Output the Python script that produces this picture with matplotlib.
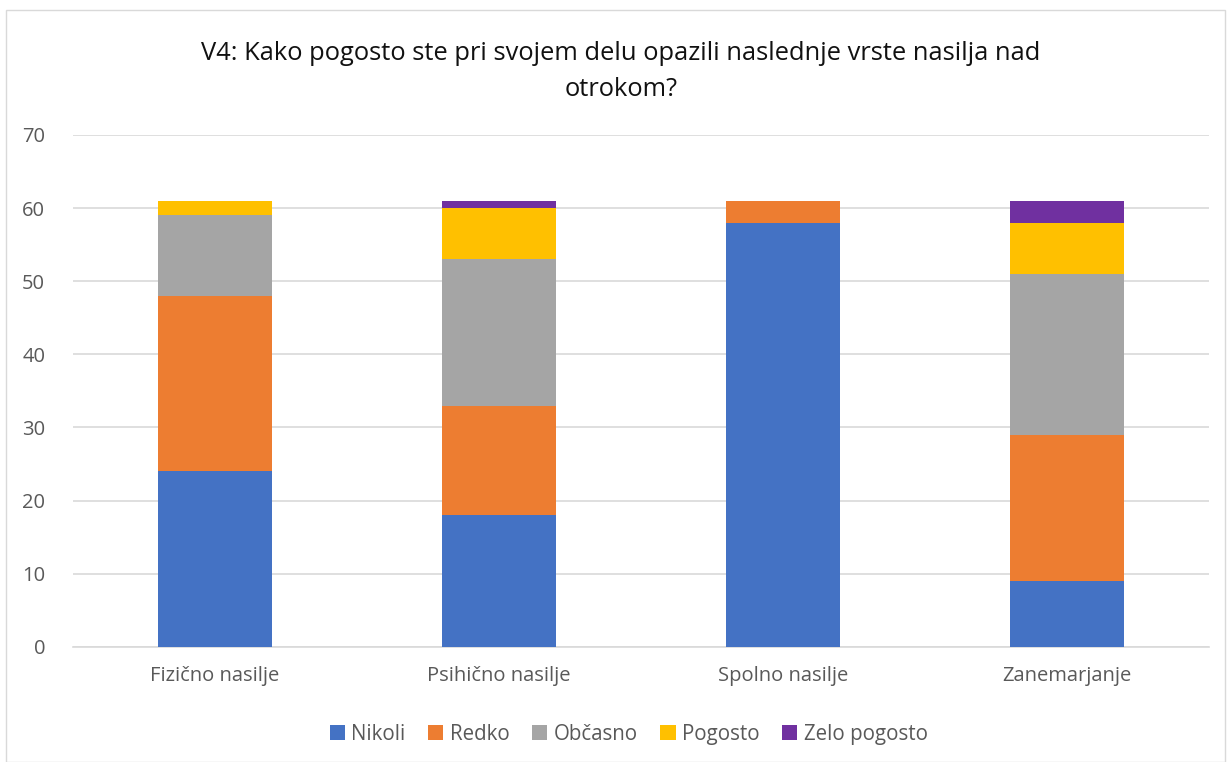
import matplotlib.pyplot as plt
import numpy as np
from matplotlib.patches import Rectangle

plt.rcParams['font.family'] = ['Open Sans', 'DejaVu Sans']

categories = ["Fizično nasilje", "Psihično nasilje", "Spolno nasilje", "Zanemarjanje"]
series = ["Nikoli", "Redko", "Občasno", "Pogosto", "Zelo pogosto"]
nikoli = [24, 18, 58, 9]
redko = [24, 15, 3, 20]
obcasno = [11, 20, 0, 22]
pogosto = [2, 7, 0, 7]
zelo_pogosto = [0, 1, 0, 3]
colors = ["#4472c4", "#ed7d31", "#a5a5a5", "#ffc000", "#7030a0"]

fig = plt.figure(figsize=(12.27, 7.62), dpi=100)
fig.patches.append(Rectangle((0.005, 0.0), 0.993, 0.987, transform=fig.transFigure,
                             fill=False, edgecolor="#d9d9d9", linewidth=1))
ax = fig.add_axes([0.0595, 0.151, 0.926, 0.672])

x = np.arange(len(categories))
bottom = np.zeros(len(categories))
for name, vals, col in zip(series, [nikoli, redko, obcasno, pogosto, zelo_pogosto], colors):
    ax.bar(x, vals, 0.4, bottom=bottom, color=col, label=name, zorder=3)
    bottom += np.array(vals)

ax.set_xlim(-0.5, len(categories) - 0.5)
ax.set_ylim(0, 70)
ax.set_yticks(range(0, 71, 10))
ax.set_xticks(x)
ax.set_xticklabels(categories)
ax.yaxis.grid(True, color="#d9d9d9", linewidth=1.2, zorder=0)
for s in ["top", "right", "left"]:
    ax.spines[s].set_visible(False)
ax.spines["bottom"].set_color("#d9d9d9")
ax.spines["bottom"].set_linewidth(1.2)
ax.tick_params(axis="both", length=0, labelsize=14.5, colors="#595959")
ax.tick_params(axis="x", pad=14)
ax.tick_params(axis="y", pad=20)

fig.text(0.506, 0.906, "V4: Kako pogosto ste pri svojem delu opazili naslednje vrste nasilja nad\notrokom?",
         ha="center", va="center", fontsize=18.4, color="#111111", linespacing=1.54)

ax.legend(loc="upper center", bbox_to_anchor=(0.489, -0.114), ncol=5, frameon=False,
          fontsize=14.8, handlelength=0.75, handleheight=0.75, handletextpad=0.3,
          columnspacing=1.1, labelcolor="#595959")

fig.savefig("out.png", dpi=100)
